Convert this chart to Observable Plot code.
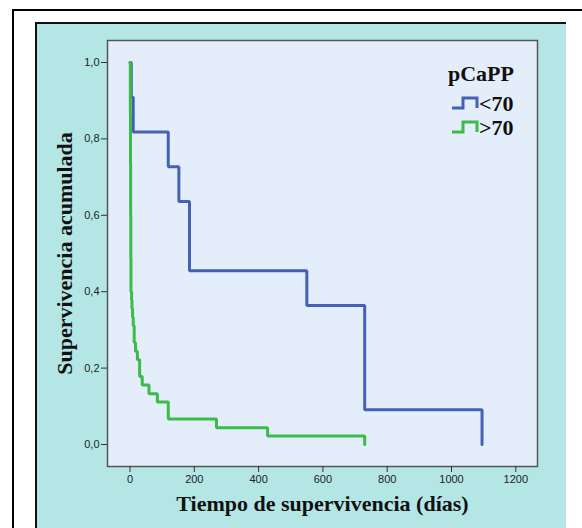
<!DOCTYPE html>
<html>
<head>
<meta charset="utf-8">
<script src="https://cdn.jsdelivr.net/npm/d3@7"></script>
<script src="https://cdn.jsdelivr.net/npm/@observablehq/plot@0.6"></script>
<style>
  html, body { margin: 0; padding: 0; background: #fff; overflow: hidden; }
  #wrap { position: relative; width: 582px; height: 528px; overflow: hidden; background: #fff; }
  #outer { position: absolute; left: 12px; top: 9px; width: 700px; height: 700px; border-top: 2px solid #000; border-left: 2px solid #000; }
  #panel { position: absolute; left: 35px; top: 22px; width: 531px; height: 700px; background: #b4e6e6; border-top: 2px solid #111; border-left: 2px solid #111; box-sizing: border-box; }
  #chart { position: absolute; left: 0; top: 0; }
</style>
</head>
<body>
<div id="wrap">
  <div id="outer"></div>
  <div id="panel"></div>
  <div id="chart"></div>
</div>
<script>
// Data
const groups = ["<70", ">70"];
const groupColors = ["#4561b6", "#3cbb48"];

const blueTimes = [0, 4, 10, 119, 152, 185, 550, 730, 1095];
const blueSurv  = [1, 0.909, 0.818, 0.727, 0.636, 0.455, 0.364, 0.091, 0];

const greenTimes = [0, 1, 1.5, 2, 2.5, 3, 5, 6, 8, 10, 13, 17, 23, 30, 38, 59, 85, 119, 269, 428, 730];
const greenSurv  = [1, 0.867, 0.733, 0.6, 0.489, 0.4, 0.378, 0.356, 0.333, 0.311, 0.267, 0.244, 0.222, 0.178, 0.156, 0.133, 0.111, 0.067, 0.044, 0.022, 0];

const xTicks = [0, 200, 400, 600, 800, 1000, 1200];
const yTicks = [0, 0.2, 0.4, 0.6, 0.8, 1.0];

const xLabel = "Tiempo de supervivencia (días)";
const yLabel = "Supervivencia acumulada";
const legendTitle = "pCaPP";

const rows = [
  ...blueTimes.map((t, i) => ({t, s: blueSurv[i], g: groups[0]})),
  ...greenTimes.map((t, i) => ({t, s: greenSurv[i], g: groups[1]}))
];

const serif = "'Liberation Serif', 'Times New Roman', serif";

const chart = Plot.plot({
  width: 582,
  height: 528,
  marginLeft: 107,
  marginRight: 45,
  marginTop: 40,
  marginBottom: 62,
  style: {fontFamily: "'Liberation Sans', Arial, sans-serif", fontSize: "11px", background: "transparent", color: "#222", overflow: "visible"},
  x: {domain: [-70, 1267.5]},
  y: {domain: [-0.0576, 1.0576]},
  color: {domain: groups, range: groupColors},
  marks: [
    Plot.frame({fill: "#e3eefa", stroke: "#555", strokeWidth: 1.5}),
    Plot.line(rows, {x: "t", y: "s", z: "g", stroke: "g", curve: "step-after", strokeWidth: 3, strokeLinejoin: "miter"}),
    Plot.axisX(xTicks, {tickSize: 6, tickPadding: 3, tickFormat: d => String(d), label: null, fontSize: 11, stroke: "#333"}),
    Plot.axisY(yTicks, {tickSize: 6, tickPadding: 2, tickFormat: d => d.toFixed(1).replace(".", ","), label: null, fontSize: 11, stroke: "#333"}),
    Plot.text([xLabel], {text: d => d, frameAnchor: "bottom", dy: 44, textAnchor: "middle", fontFamily: serif, fontWeight: "bold", fontSize: 22, fill: "#111"}),
    Plot.text([yLabel], {text: d => d, frameAnchor: "left", dx: -43, rotate: -90, textAnchor: "middle", lineAnchor: "middle", fontFamily: serif, fontWeight: "bold", fontSize: 22, fill: "#111"})
  ]
});

document.getElementById("chart").appendChild(chart);

// Legend
const svg = d3.select(chart);
const lg = svg.append("g").attr("font-family", serif).attr("fill", "#111").attr("text-anchor", "start");
lg.append("text").attr("x", 448).attr("y", 81).attr("font-size", 22).attr("font-weight", "bold").text(legendTitle);
groups.forEach((g, i) => {
  const yb = 108 + i * 24;
  lg.append("path")
    .attr("d", `M452,${yb} H463 V${yb - 10} H477 V${yb}`)
    .attr("fill", "none").attr("stroke", groupColors[i]).attr("stroke-width", 3);
  lg.append("text").attr("x", 479).attr("y", yb + 3).attr("font-size", 22).attr("font-weight", "bold").text(g);
});
</script>
</body>
</html>
